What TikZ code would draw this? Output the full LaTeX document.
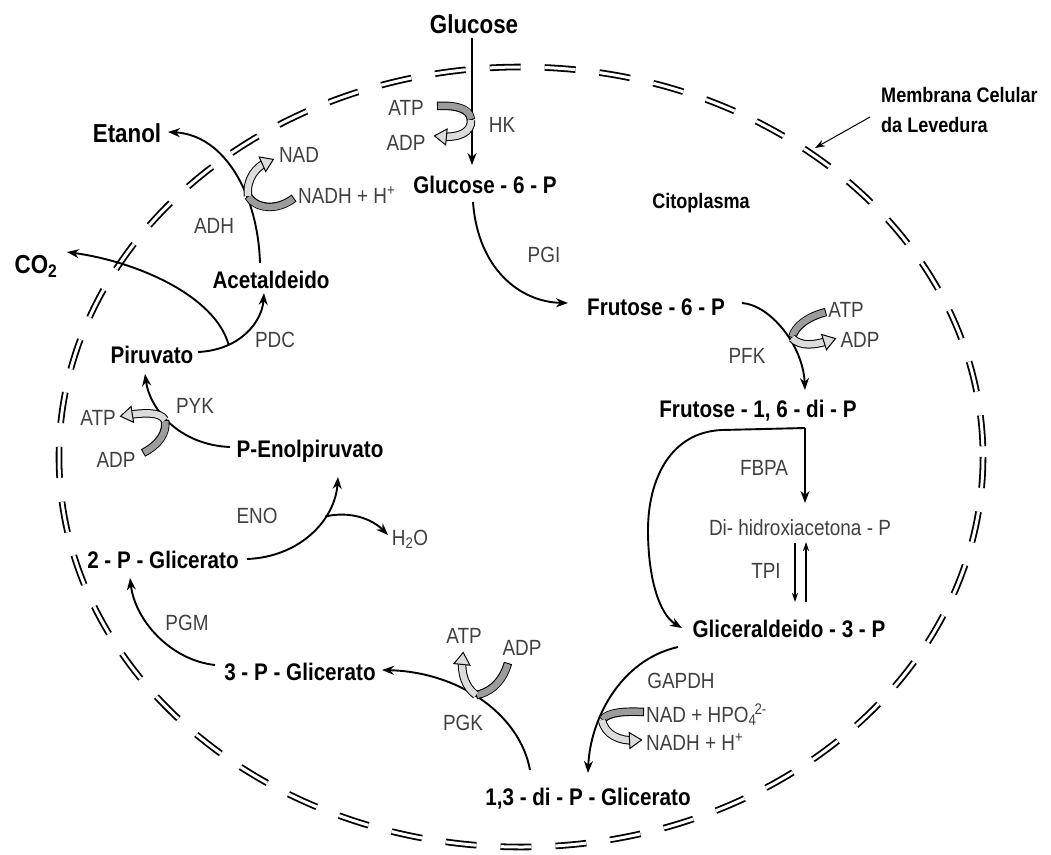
\documentclass[tikz,border=0pt]{standalone}
\usepackage{fontspec}
\setmainfont{Liberation Sans}[FakeStretch=0.86]
\usetikzlibrary{arrows.meta,calc,decorations.markings}
\definecolor{enzgray}{HTML}{404040}
\definecolor{cofdark}{HTML}{9C9C9C}
\definecolor{coflight}{HTML}{DCDCDC}
\newcommand\cofdarkband[1]{%
  \draw[line width=8.5pt] #1;
  \draw[line width=6.5pt, draw=cofdark, shorten <=1pt, shorten >=1pt] #1;}
\newcommand\coflightband[1]{%
  \draw[line width=8.5pt, shorten >=6pt] #1;
  \draw[line width=6.5pt, draw=coflight, shorten >=6pt] #1;
  \path[decoration={markings, mark=at position 0.99 with {\filldraw[fill=coflight, draw=black, line width=1pt] (-10pt,-8pt) -- (2pt,0pt) -- (-10pt,8pt) -- cycle;}}, decorate] #1;}
\tikzset{
  met/.style={font=\fontsize{24}{28}\selectfont\bfseries, inner sep=1pt, anchor=base},
  bigmet/.style={font=\fontsize{26}{30}\selectfont\bfseries, inner sep=1pt, anchor=base},
  enz/.style={font=\fontsize{22}{26}\selectfont, text=enzgray, inner sep=1pt, anchor=base},
  cofl/.style={font=\fontsize{22}{26}\selectfont, text=enzgray, inner sep=1pt, anchor=base west},
  arr/.style={line width=1.9pt, -{Stealth[length=12pt,width=9pt]}},
  thinarr/.style={line width=1.2pt, -{Stealth[length=9pt,width=6pt]}},
  membrane/.style={line width=1.8pt, double=white, double distance=3pt, dash pattern=on 31pt off 24pt}
}
\begin{document}
\begin{tikzpicture}[x=1pt,y=-1pt]
\fill[white] (0,0) rectangle (1051,854);
\useasboundingbox (0,0) rectangle (1051,854);

% membrane
\draw[membrane] (521,457) ellipse [x radius=462, y radius=390];

% metabolites
\node[bigmet] (glc) at (474,33) {Glucose};
\node[met] (g6p) at (485,193) {Glucose - 6 - P};
\node[met] (f6p) at (656,315) {Frutose - 6 - P};
\node[met] (fbp) at (758,417) {Frutose - 1, 6 - di - P};
\node[enz] (dhap) at (800,535) {Di- hidroxiacetona - P};
\node[met] (gap) at (789,637) {Gliceraldeido - 3 - P};
\node[met] (bpg) at (588,805) {1,3 - di - P - Glicerato};
\node[met] (pg3) at (300,680) {3 - P - Glicerato};
\node[met] (pg2) at (163,568) {2 - P - Glicerato};
\node[met] (pep) at (310,457) {P-Enolpiruvato};
\node[met] (pyr) at (152,363) {Piruvato};
\node[met] (acet) at (271,288) {Acetaldeido};
\node[bigmet] (etoh) at (127,142) {Etanol};
\node[bigmet] (co2) at (36,273) {CO\textsubscript{2}};
\node[enz] (h2o) at (410,545) {H\textsubscript{2}O};
\node[font=\fontsize{21}{25}\selectfont\bfseries, inner sep=1pt, anchor=base] (cit) at (701,208) {Citoplasma};
\node[font=\fontsize{21}{25}\selectfont\bfseries, inner sep=1pt, anchor=base west] (memba) at (880,102) {Membrana Celular};
\node[font=\fontsize{21}{25}\selectfont\bfseries, inner sep=1pt, anchor=base west] (membb) at (880,132) {da Levedura};
\coordinate (membpt) at (815,148);

% enzymes
\node[enz] (hk) at (502,132) {HK};
\node[enz] (pgi) at (544,262) {PGI};
\node[enz] (pfk) at (747,363) {PFK};
\node[enz] (fbpa) at (764,475) {FBPA};
\node[enz] (tpi) at (766,578) {TPI};
\node[enz] (gapdh) at (681,688) {GAPDH};
\node[enz] (pgk) at (463,730) {PGK};
\node[enz] (pgm) at (187,630) {PGM};
\node[enz] (eno) at (257,523) {ENO};
\node[enz] (pyk) at (195,413) {PYK};
\node[enz] (pdc) at (275,347) {PDC};
\node[enz] (adh) at (214,233) {ADH};

% cofactor labels
\node[enz] (atp1) at (406,115) {ATP};
\node[enz] (adp1) at (406,150) {ADP};
\node[enz] (atp2) at (846,317) {ATP};
\node[enz] (adp2) at (860,347) {ADP};
\node[cofl] (nadp) at (645,722) {NAD + HPO\textsubscript{4}\kern-2pt\textsuperscript{2-}};
\node[cofl] (nadh3) at (645,750) {NADH + H\textsuperscript{+}};
\node[enz] (atp4) at (464,643) {ATP};
\node[enz] (adp4) at (522,655) {ADP};
\node[enz] (atp5) at (98,425) {ATP};
\node[enz] (adp5) at (116,467) {ADP};
\node[enz] (nad6) at (299,162) {NAD};
\node[cofl] (nadh6) at (297,203) {NADH + H\textsuperscript{+}};

% main connectors
\draw[arr] ($(glc.base)+(-2,5)$) -- ($(g6p.base)+(-13,-28)$);
\draw[arr] ($(g6p.base)+(-12,9)$) .. controls +(5,68) and +(-47,-1) .. ($(f6p.base)+(-88,-12)$);
\draw[arr] ($(f6p.base)+(86,-12)$) .. controls +(28,2) and +(-2,-45) .. ($(fbp.base)+(47,-27)$);
\draw[arr] ($(fbp.base)+(47,11)$) -- ($(dhap.base)+(5,-32)$);
\draw[arr] ($(fbp.base)+(47,11)$) -- ($(fbp.base)+(-36,13)$) .. controls +(-52,2) and +(0,-50) .. ($(fbp.base)+(-110,113)$) .. controls +(0,50) and +(-22,-13) .. ($(gap.base)+(-107,-9)$);
\draw[thinarr] ($(dhap.base)+(-5,8)$) -- ($(gap.base)+(6,-35)$);
\draw[thinarr] ($(gap.base)+(17,-35)$) -- ($(dhap.base)+(6,7)$);
\draw[arr] ($(gap.base)+(-111,10)$) .. controls +(-58,13) and +(2,-53) .. ($(bpg.base)+(0,-32)$);
\draw[arr] ($(bpg.base)+(-58,-35)$) .. controls +(-10,-55) and +(78,2) .. ($(pg3.base)+(82,-10)$);
\draw[arr] ($(pg3.base)+(-85,-15)$) .. controls +(-45,-5) and +(5,42) .. ($(pg2.base)+(-33,10)$);
\draw[arr] ($(pg2.base)+(84,-9)$) .. controls +(53,-2) and +(-3,43) .. coordinate[pos=0.67] (enob) ($(pep.base)+(28,20)$);
\draw[arr] (enob) .. controls +(25,-6) and +(-16,-16) .. ($(h2o.base)+(-22,-10)$);
\draw[arr] ($(pep.base)+(-80,-10)$) .. controls +(-50,-2) and +(5,36) .. ($(pyr.base)+(-7,11)$);
\draw[arr] ($(pyr.base)+(46,-11)$) .. controls +(42,-2) and +(-2,29) .. coordinate[pos=0.28] (pdcb) ($(acet.base)+(-7,5)$);
\draw[arr] (pdcb) .. controls +(-13,-48) and +(72,10) .. ($(co2.base)+(31,-21)$);
\draw[arr] ($(acet.base)+(-11,-25)$) .. controls +(-2,-68) and +(57,3) .. ($(etoh.base)+(41,-10)$);
\draw[line width=1pt, -{Stealth[length=10pt,width=7pt]}] ($(memba.base west)+(-10,15)$) -- (membpt);

% cofactor arrows
\cofdarkband{(437,106) .. controls (455,105) and (470,108) .. (471,120)}
\coflightband{(471,120) .. controls (472,133) and (457,138) .. (436,136)}
\cofdarkband{(294,198) .. controls (276,212) and (255,208) .. (248,196)}
\coflightband{(248,196) .. controls (246,179) and (256,167) .. (272,160)}
\cofdarkband{(826,312) .. controls (810,316) and (795,325) .. (792,338)}
\coflightband{(792,338) .. controls (800,347) and (815,345) .. (834,339)}
\cofdarkband{(644,712) .. controls (625,711) and (608,712) .. (602,720)}
\coflightband{(602,720) .. controls (605,735) and (620,741) .. (640,740)}
\cofdarkband{(508,663) .. controls (502,684) and (488,693) .. (476,695)}
\coflightband{(476,695) .. controls (465,687) and (461,673) .. (463,654)}
\cofdarkband{(143,453) .. controls (160,444) and (167,432) .. (165,420)}
\coflightband{(165,420) .. controls (160,411) and (141,413) .. (122,416)}
\end{tikzpicture}
\end{document}
